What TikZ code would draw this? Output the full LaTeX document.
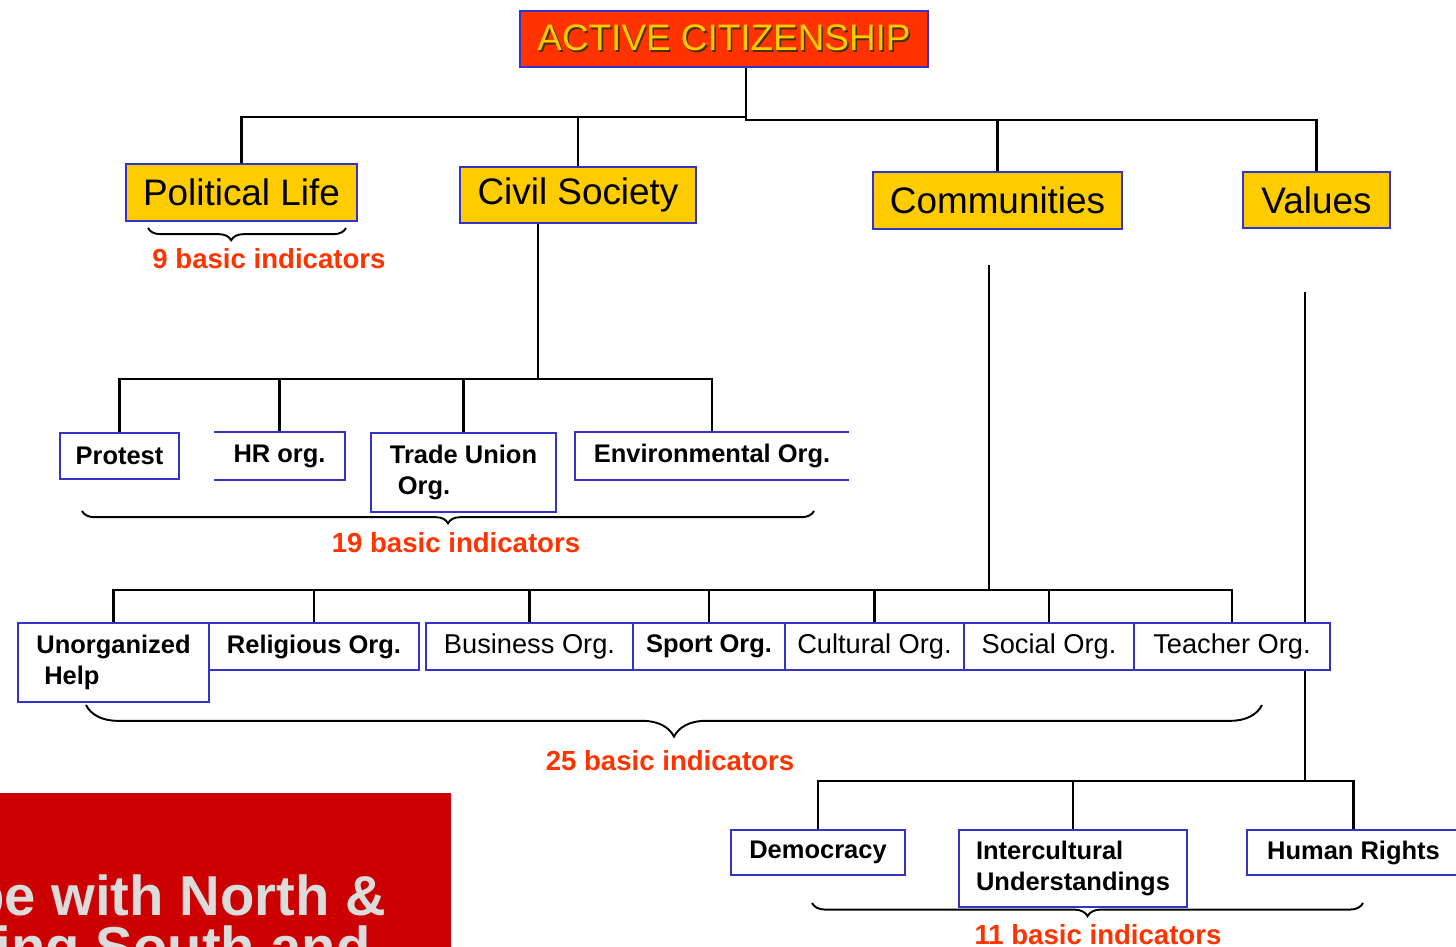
\documentclass[tikz,border=0pt]{standalone}
\usepackage{fontspec}
\setmainfont{Liberation Sans}
\usetikzlibrary{positioning, calc, backgrounds, decorations.pathreplacing}

\definecolor{boxblue}{HTML}{3333CC}
\definecolor{gold}{HTML}{FFCC00}
\definecolor{flame}{HTML}{FF3300}
\definecolor{banner}{HTML}{CC0000}
\definecolor{shade}{HTML}{4D2E00}
\definecolor{paleink}{HTML}{DCDCDC}

\newcommand{\fs}[2]{\fontsize{#1}{#2}\selectfont}
\newcommand{\shadowed}[1]{% yellow text with a dark drop shadow
  \makebox[0pt][l]{\hspace{0.9pt}\raisebox{-0.9pt}{\color{shade}#1}}{\color{gold}#1}}
\newcommand{\bx}[7]{% box given by its corners (pixel units)
  \node[#2, minimum width={(#5-#3)*0.02cm}, minimum height={(#6-#4)*0.02cm}]
    (#1) at ({(#3+#5)/2}, {(#4+#6)/2}) {#7};
  }

\begin{document}
\begin{tikzpicture}[
  x=0.02cm, y=-0.02cm,
  title/.style={
    draw=boxblue, fill=flame, line width=1pt, inner sep=0pt,
    font=\fs{21}{25}
  },
  pillar/.style={
    draw=boxblue, fill=gold, line width=1pt, inner sep=0pt,
    font=\fs{21}{25}
  },
  org/.style={
    draw=boxblue, fill=white, line width=1.2pt, inner sep=0pt,
    align=left, font=\bfseries\fs{14.5}{17.5}
  },
  orgthin/.style={org, font=\fs{15.5}{17.5}},
  tally/.style={text=flame, inner sep=0pt, font=\bfseries\fs{15.7}{18}},
  tie/.style={line width=1.5pt},
  curly/.style 2 args={
    decorate, decoration={brace, mirror, amplitude=#1, aspect=#2},
    line width=1.1pt
  },
  banner text/.style={text=paleink, inner sep=0pt, font=\bfseries\fs{32}{38}},
  ]

  \clip (0,0) rectangle (1456,946);

  % top of the tree
  \bx{title}{title}{520}{11}{928}{67}{\shadowed{ACTIVE CITIZENSHIP}}
  \bx{political}{pillar}{126}{164}{357}{221}{Political Life}
  \bx{civil}{pillar}{460}{167}{696}{223}{Civil Society}
  \bx{communities}{pillar}{873}{172}{1122}{229}{Communities}
  \bx{values}{pillar}{1243}{172}{1390}{228}{Values}

  % civil society branch
  \bx{protest}{org}{60}{433}{179}{479}{Protest}
  \bx{hrorg}{org, draw=none}{215}{433}{344}{479}{HR org.}
  \bx{union}{org}{371}{433}{556}{512}{Trade Union\\\hspace*{4.5pt}Org.}
  \bx{environ}{org, draw=none}{576}{433}{848}{479}{Environmental Org.}
  \draw [boxblue, line width=1.2pt] (hrorg.north west) -| (hrorg.south east) -- (hrorg.south west);
  \draw [boxblue, line width=1.2pt] (environ.north east) -| (environ.south west) -- (environ.south east);

  % communities branch
  \bx{unorg}{org}{18}{623}{209}{702}{Unorganized\\\hspace*{4.5pt}Help}
  \foreach \nm/\sty/\xa/\xb/\txt in {
      religious/org/209/419/Religious Org.,
      business/orgthin/426/633/Business Org.,
      sport/org/633/785/Sport Org.,
      cultural/orgthin/785/964/Cultural Org.,
      social/orgthin/964/1134/Social Org.,
      teacher/orgthin/1134/1330/Teacher Org.}
  {
    \bx{\nm}{\sty}{\xa}{623}{\xb}{670}{\txt}
  }

  % values branch
  \bx{democracy}{org}{731}{830}{905}{875}{Democracy}
  \bx{intercult}{org}{959}{830}{1187}{907}{Intercultural\\Understandings}
  \bx{rights}{org}{1247}{830}{1460}{875}{Human Rights}

  % connectors, kept behind the boxes
  \begin{scope}[on background layer]
    \fill [banner] (0,793) rectangle (451,950);
    \coordinate (apex) at (746,117);
    \coordinate (apexr) at (746,120);
    \draw [tie] (title.south -| apex) -- (apex);
    \draw [tie] (political.north) |- (apex) -- (apexr) -| (values.north);
    \draw [tie] (civil.north) -- (civil.north |- apex);
    \draw [tie] (communities.north) -- (communities.north |- apexr);

    \coordinate (csbus) at (538,379);
    \draw [tie] (civil.south -| csbus) -- (csbus);
    \draw [tie] (protest.north) |- (csbus) -| (environ.north);
    \foreach \n in {hrorg, union}
      \draw [tie] (\n.north) -- (\n.north |- csbus);

    \coordinate (cmtop) at (989,265);
    \coordinate (cmbus) at (989,590);
    \draw [tie] (cmtop) -- (cmbus);
    \draw [tie] (unorg.north) |- (cmbus) -| (teacher.north);
    \foreach \n in {religious, business, sport, cultural, social}
      \draw [tie] (\n.north) -- (\n.north |- cmbus);

    \coordinate (vltop) at (1305,292);
    \coordinate (vlbus) at (1305,781);
    \draw [tie] (vltop) -- (vlbus);
    \draw [tie] (democracy.north) |- (vlbus) -| (rights.north);
    \draw [tie] (intercult.north) -- (intercult.north |- vlbus);
  \end{scope}

  % braces and counts
  \draw [curly={7pt}{0.42}] (148,228) -- (346,228);
  \draw [curly={7pt}{0.5}] (82,511) -- (814,511);
  \draw [curly={18pt}{0.5}] (86,705) -- (1262,705);
  \draw [curly={7.5pt}{0.5}] (812,903) -- (1363,903);
  \node [tally] (pltally) at (269,259) {9 basic indicators};
  \node [tally] (cstally) at (456,543) {19 basic indicators};
  \node [tally] (cmtally) at (670,761) {25 basic indicators};
  \node [tally] (vltally) at (1098,935) {11 basic indicators};

  % banner in the corner
  \node [banner text, anchor=base east] (northline) at (386,915) {pe with North \&};
  \node [banner text, anchor=base east] (southline) at (371,966) {ing South and};

\end{tikzpicture}
\end{document}
